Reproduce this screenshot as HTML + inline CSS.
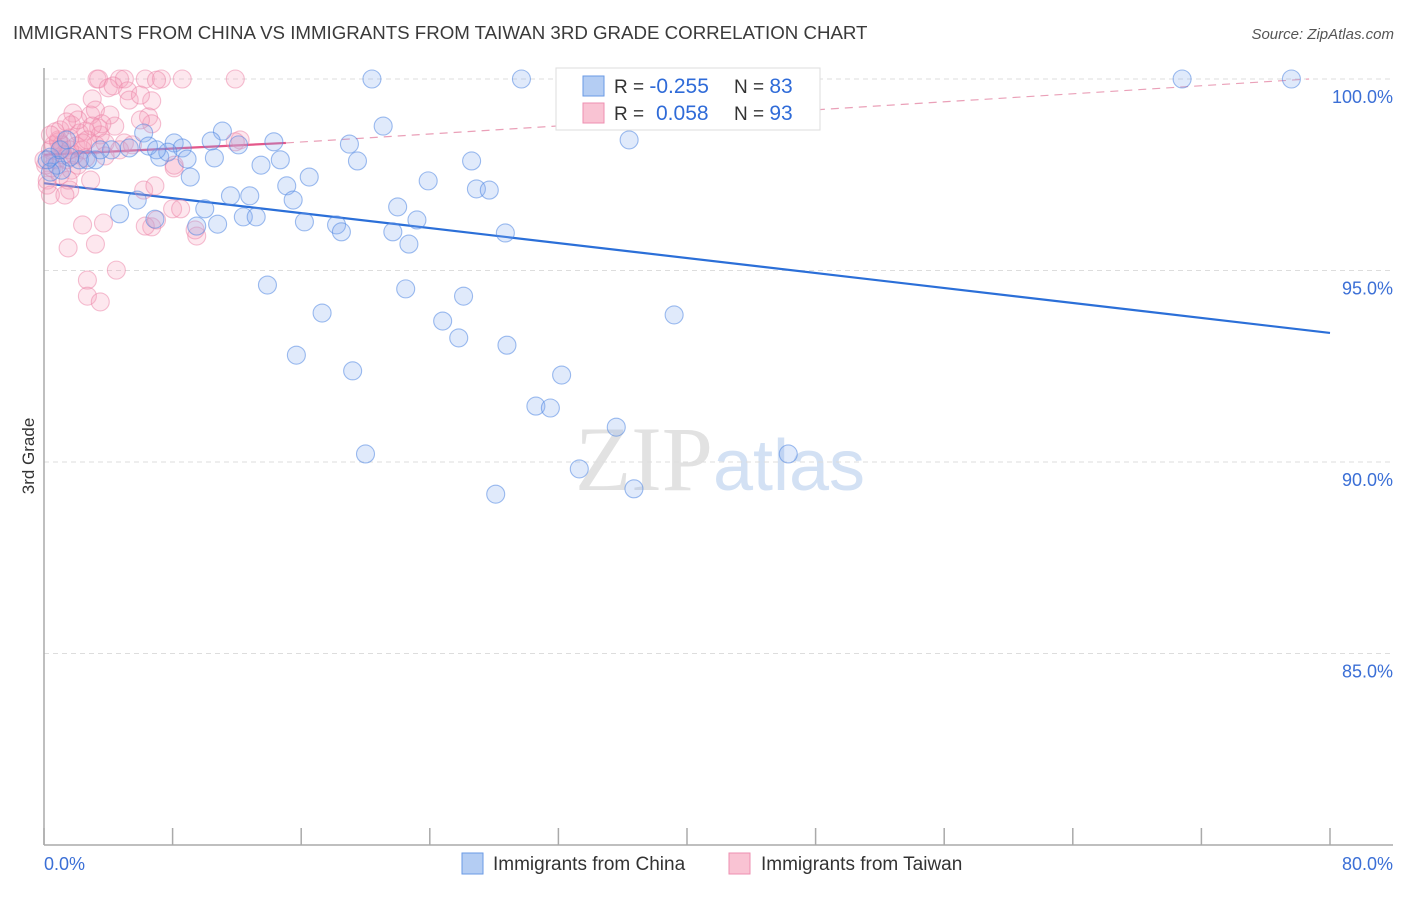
<!DOCTYPE html>
<html><head><meta charset="utf-8"><style>
body{margin:0;background:#fff;font-family:"Liberation Sans",sans-serif;}
svg text{font-family:"Liberation Sans",sans-serif;}
</style></head><body>
<svg id="chart" width="1406" height="892" viewBox="0 0 1406 892" xmlns="http://www.w3.org/2000/svg">
<text x="13" y="39" font-size="18.7" fill="#3a3a3a">IMMIGRANTS FROM CHINA VS IMMIGRANTS FROM TAIWAN 3RD GRADE CORRELATION CHART</text>
<text x="1394" y="39" font-size="15" fill="#555" text-anchor="end" font-style="italic">Source: ZipAtlas.com</text>
<text x="720" y="490" font-size="92" text-anchor="middle"><tspan fill="#e2e2e2" font-family="Liberation Serif">ZIP</tspan><tspan fill="#d3e1f4" font-size="72">atlas</tspan></text>
<g id="grid"></g>
<g id="axes"></g>
<g id="trend"></g>
<g id="pts"></g>
<text transform="translate(34,456) rotate(-90)" font-size="17" fill="#333" text-anchor="middle">3rd Grade</text>
<g>
<rect x="556" y="68" width="264" height="62" fill="#fff" stroke="#ddd"/>
<rect x="583" y="76" width="21" height="20" fill="#b4cdf3" stroke="#6a9ae6"/>
<rect x="583" y="103" width="21" height="20" fill="#f9c3d3" stroke="#ee8fb0"/>
<text x="614" y="93" font-size="19" fill="#333">R = <tspan fill="#2f6bd8" font-size="21">-0.255</tspan></text>
<text x="734" y="93" font-size="19" fill="#333">N = <tspan fill="#2f6bd8" font-size="21">83</tspan></text>
<text x="614" y="120" font-size="19" fill="#333">R = <tspan fill="#2f6bd8" x="656" font-size="21">0.058</tspan></text>
<text x="734" y="120" font-size="19" fill="#333">N = <tspan fill="#2f6bd8" font-size="21">93</tspan></text>
</g>
<g>
<rect x="462" y="853" width="21" height="21" fill="#b4cdf3" stroke="#6a9ae6"/>
<text x="493" y="870" font-size="19" fill="#333">Immigrants from China</text>
<rect x="729" y="853" width="21" height="21" fill="#f9c3d3" stroke="#ee8fb0"/>
<text x="761" y="870" font-size="19" fill="#333">Immigrants from Taiwan</text>
</g>
</svg>
<script>
const yTicks=[100,95,90,85];
const yTickLabels=["100.0%","95.0%","90.0%","85.0%"];
const xTicks=[0,8,16,24,32,40,48,56,64,72,80];
const xEndLabels=["0.0%","80.0%"];
const chinaX=[20.4,29.7,32.9,70.8,77.6,21.1,36.4,6.2,11.1,10.4,14.3,12.1,19.0,8.1,8.6,7.2,7.7,8.9,3.2,0.4,1.1,6.5,4.2,14.7,13.5,19.5,26.6,16.5,15.1,23.9,26.9,27.7,11.6,12.8,15.5,5.8,4.7,6.9,10.0,22.0,10.8,12.4,13.2,16.2,18.2,18.5,21.7,23.2,22.7,28.7,13.9,22.5,26.1,17.3,24.8,39.2,25.8,28.8,15.7,19.2,32.2,30.6,31.5,35.6,20.0,33.3,46.3,36.7,28.1,9.1,10.6,5.3,2.2,3.5,1.6,0.8,0.4,9.5,7.0,1.0,0.2,2.7,1.4];
const chinaY=[100,100,100,100,100,98.77,98.41,98.59,98.64,98.38,98.36,98.28,98.30,98.33,98.20,97.96,98.09,97.91,97.89,97.96,97.62,98.25,98.15,97.89,97.75,97.86,97.86,97.44,97.21,97.34,97.13,97.10,96.95,96.95,96.84,96.84,96.48,96.34,96.61,96.66,96.21,96.40,96.40,96.27,96.19,96.01,96.01,96.32,95.69,95.98,94.62,94.52,94.33,93.89,93.68,93.84,93.24,93.05,92.79,92.38,92.27,91.46,91.41,90.91,90.21,89.82,90.21,89.30,89.16,97.44,97.94,98.20,97.89,98.15,97.96,97.75,97.57,96.16,98.15,98.15,97.89,97.89,98.41];
const taiwanX=[3.3,3.4,4.7,5.0,6.3,7.3,8.6,11.9,4.0,4.3,5.2,3.0,6.7,2.9,6.5,6.7,1.8,3.4,1.7,2.6,0.9,1.6,2.2,3.5,4.4,1.1,2.0,3.2,3.8,5.0,12.2,11.9,0.7,1.4,0.5,1.0,0.2,0.4,1.6,2.9,1.7,6.2,6.9,8.1,8.0,8.5,6.7,6.3,7.0,2.4,3.2,1.5,3.7,0.9,1.2,1.9,2.4,2.6,0.4,0.6,1.1,2.7,1.6,2.1,0.1,4.5,2.7,2.7,3.5,9.5,9.4,8.1,1.3,0.2,1.0,2.1,3.2,5.3,4.1,6.0,6.0,7.0,3.6,4.7,5.5,0.7,1.4,2.4,3.0,3.8,1.5,0,0.4];
const taiwanY=[100,100,100,100,100,100,100,100,99.77,99.82,99.69,99.48,99.43,99.06,99.01,98.83,99.11,98.72,98.80,98.64,98.41,98.46,98.59,98.54,98.77,98.15,98.25,98.28,98.33,98.33,98.41,98.36,97.89,97.89,97.68,97.49,97.36,96.97,97.10,97.36,97.62,97.10,97.21,97.68,96.61,96.61,96.14,96.16,96.32,96.19,95.69,95.59,96.24,98.36,98.02,98.02,98.15,97.94,98.15,98.28,98.28,98.41,98.15,97.75,97.75,95.01,94.75,94.33,94.18,95.90,96.06,97.75,96.97,97.23,98.67,98.93,99.19,99.45,99.06,98.93,99.58,99.97,98.83,98.15,98.28,98.62,98.88,98.33,98.77,97.99,97.36,97.89,98.54];
const chinaTrendX=[0,80];
const chinaTrendY=[97.28,93.37];
const taiwanTrendX=[0,15.05,78.7];
const taiwanTrendY=[98.02,98.33,100];

const NS="http://www.w3.org/2000/svg";
const X0=44,X1=1330,YT=79,PPP=38.3;
const sx=v=>X0+(v/80)*(X1-X0);
const sy=v=>YT+(100-v)*PPP;
function mk(tag,attrs,parent){const e=document.createElementNS(NS,tag);for(const k in attrs)e.setAttribute(k,attrs[k]);parent.appendChild(e);return e;}
const grid=document.getElementById('grid'),axes=document.getElementById('axes'),trend=document.getElementById('trend'),pts=document.getElementById('pts');
yTicks.forEach((t,i)=>{
 const l=mk('line',{x1:X0,x2:1393,y1:sy(t),y2:sy(t),stroke:'#ddd','stroke-dasharray':'5,4'},grid);
 
 
 const tx=mk('text',{x:1393,y:sy(t)+24,'font-size':18,fill:'#3b6fd6','text-anchor':'end'},grid);
 tx.textContent=yTickLabels[i];
 
 
});
const ya=mk('line',{x1:X0,x2:X0,y1:68,y2:845,stroke:'#aaa','stroke-width':1.5},axes);


const xa=mk('line',{x1:X0,x2:1393,y1:845,y2:845,stroke:'#aaa','stroke-width':1.5},axes);


xTicks.forEach(t=>{
 const l=mk('line',{x1:sx(t),x2:sx(t),y1:828,y2:845,stroke:'#aaa','stroke-width':1.5},axes);
 
 
});
const xl0=mk('text',{x:44,y:870,'font-size':18,fill:'#3b6fd6'},axes);xl0.textContent=xEndLabels[0];


const xl1=mk('text',{x:1393,y:870,'font-size':18,fill:'#3b6fd6','text-anchor':'end'},axes);xl1.textContent=xEndLabels[1];



function dots(xs,ys,fill,stroke,name){
 xs.forEach((x,i)=>{
  const c=mk('circle',{cx:sx(x),cy:sy(ys[i]),r:9,fill:fill,stroke:stroke,'stroke-width':1.1},pts);
  
  
 });
}
dots(taiwanX,taiwanY,'rgba(246,160,188,0.25)','rgba(236,130,165,0.5)','taiwan-point');
dots(chinaX,chinaY,'rgba(130,172,238,0.25)','rgba(80,135,225,0.55)','china-point');

const bt=mk('line',{x1:sx(chinaTrendX[0]),y1:sy(chinaTrendY[0]),x2:sx(chinaTrendX[1]),y2:sy(chinaTrendY[1]),stroke:'#2b6fd8','stroke-width':2.2},trend);


const pt=mk('line',{x1:sx(taiwanTrendX[0]),y1:sy(taiwanTrendY[0]),x2:sx(taiwanTrendX[1]),y2:sy(taiwanTrendY[1]),stroke:'#e4588a','stroke-width':2.2},trend);


const pd=mk('line',{x1:sx(taiwanTrendX[1]),y1:sy(taiwanTrendY[1]),x2:sx(taiwanTrendX[2]),y2:sy(taiwanTrendY[2]),stroke:'#eaa0b8','stroke-width':1.2,'stroke-dasharray':'8,6'},trend);


</script>
</body></html>
